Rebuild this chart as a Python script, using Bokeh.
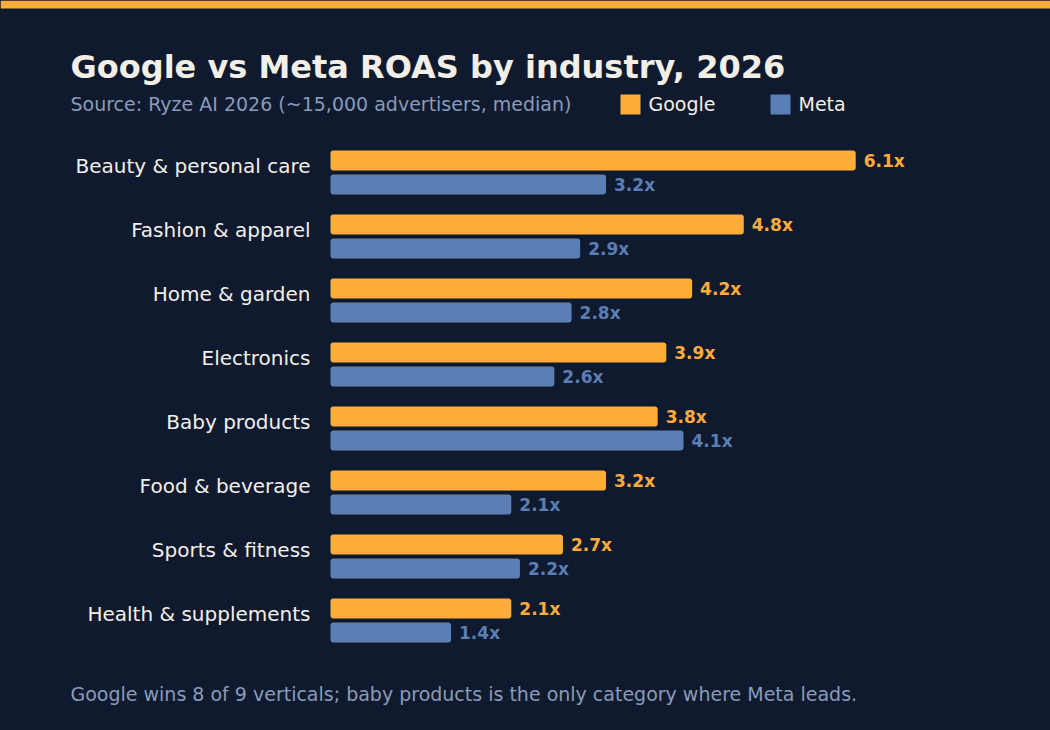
from bokeh.plotting import figure
from bokeh.models import Range1d, ColumnDataSource
from bokeh.transform import dodge
from bokeh.core.properties import value
from bokeh.embed import file_html
from bokeh.resources import INLINE

# ---- data ----
categories = ["Beauty & personal care", "Fashion & apparel", "Home & garden", "Electronics",
              "Baby products", "Food & beverage", "Sports & fitness", "Health & supplements"]
google = [6.1, 4.8, 4.2, 3.9, 3.8, 3.2, 2.7, 2.1]
meta = [3.2, 2.9, 2.8, 2.6, 4.1, 2.1, 2.2, 1.4]
series = ["Google", "Meta"]
colors = ["#FFAD3A", "#5B7FB5"]
title = "Google vs Meta ROAS by industry, 2026"
subtitle = "Source: Ryze AI 2026 (~15,000 advertisers, median)"
footer = "Google wins 8 of 9 verticals; baby products is the only category where Meta leads."

BG = "#0F1A2E"
FONT = "DejaVu Sans"
TXT = "#F3EFE7"
MUTED = "#8A9BBA"
W, H = 1050, 730

# layout constants (pixels)
X0 = 330          # value axis origin
PXU = 86.1        # pixels per ROAS unit
Y0 = 172          # centre of first group
GAP = 64          # pixels between groups

p = figure(width=W, height=H, x_range=Range1d(0, W), y_range=Range1d(H, 0),
           output_backend="svg", toolbar_location=None, min_border=0,
           x_axis_location=None, y_axis_location=None,
           background_fill_color=BG, border_fill_color=BG, outline_line_color=None)
p.styles = {"background-color": BG}
p.grid.visible = False
p.extra_x_ranges = {"val": Range1d(-X0 / PXU, (W - X0) / PXU)}
p.extra_y_ranges = {"grp": Range1d((H - Y0) / GAP, -Y0 / GAP)}

# top accent stripe
p.quad(left=[0], right=[W], top=[0], bottom=[8], fill_color=colors[0], line_color=None)

# ---- header ----
p.text(x=[70], y=[66], text=[title], text_font=value(FONT), text_font_size="32px",
       text_font_style="bold", text_color=TXT, text_baseline="middle", text_align="left")
p.text(x=[70], y=[103], text=[subtitle], text_font=value(FONT), text_font_size="19px",
       text_color=MUTED, text_baseline="middle", text_align="left")
leg_x = [630, 780]
p.scatter(x=leg_x, y=[104, 104], marker="square", size=20, color=colors, line_color=None)
p.text(x=[x + 18 for x in leg_x], y=[103, 103], text=series, text_font=value(FONT),
       text_font_size="19px", text_color=TXT, text_baseline="middle", text_align="left")

# ---- bars ----
src = ColumnDataSource(dict(
    idx=list(range(len(categories))), cat=categories, google=google, meta=meta,
    glab=[f"{v:.1f}x" for v in google], mlab=[f"{v:.1f}x" for v in meta],
))
kw = dict(source=src, x_range_name="val", y_range_name="grp")

p.text(x=0, y="idx", text="cat", x_offset=-20, y_offset=-7, text_font=value(FONT),
       text_font_size="20px", text_color=TXT, text_baseline="middle", text_align="right", **kw)

for key, lab, off, col in [("google", "glab", -0.1875, colors[0]), ("meta", "mlab", 0.1875, colors[1])]:
    yy = dodge("idx", off)
    p.hbar(y=yy, left=0, right=key, height=0.3125, fill_color=col, line_color=None,
           border_radius=3, **kw)
    p.text(x=key, y=yy, text=lab, x_offset=8, text_font=value(FONT), text_font_size="17px",
           text_font_style="bold", text_color=col, text_baseline="middle", text_align="left", **kw)

# ---- footer ----
p.text(x=[70], y=[693], text=[footer], text_font=value(FONT), text_font_size="19px",
       text_color=MUTED, text_baseline="middle", text_align="left")

open("out.html", "w").write(file_html(p, INLINE))
